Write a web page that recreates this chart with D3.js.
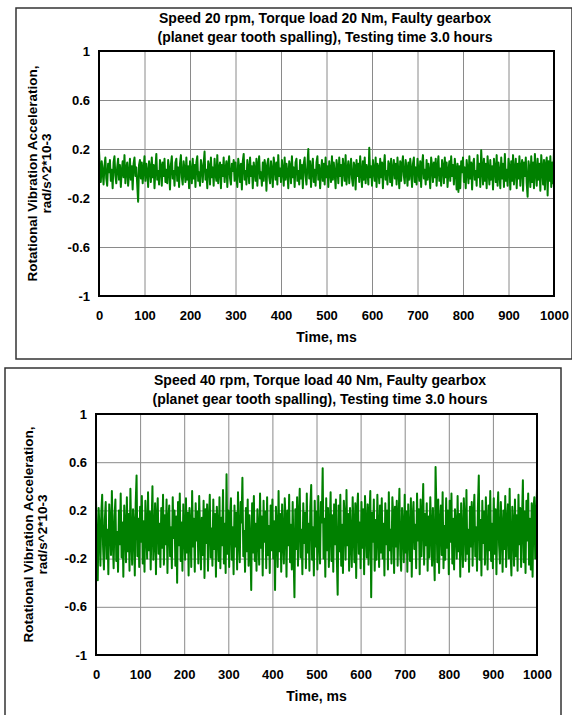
<!DOCTYPE html>
<html>
<head>
<meta charset="utf-8">
<script src="https://cdn.jsdelivr.net/npm/d3@7"></script>
<style>
  body { margin: 0; background: #fff; }
  svg { display: block; font-family: 'Liberation Sans', Arial, sans-serif; }
</style>
</head>
<body>
<div id="chart"></div>
<script>
const xTicks = [0, 100, 200, 300, 400, 500, 600, 700, 800, 900, 1000]
const yTicks = [-1, -0.6, -0.2, 0.2, 0.6, 1]
const title1 = ['Speed 20 rpm, Torque load 20 Nm, Faulty gearbox', '(planet gear tooth spalling), Testing time 3.0 hours']
const title2 = ['Speed 40 rpm, Torque load 40 Nm, Faulty gearbox', '(planet gear tooth spalling), Testing time 3.0 hours']
const yTitle = ['Rotational Vibration Acceleration,', 'rad/s^2*10-3']
const xTitle = 'Time, ms'

// sampled every 2 ms, 0..1000 ms (one row = 50 ms)
const signal1 = [
  0.19, 0.04, -0.07, 0.10, 0.02, -0.09, 0.06, 0.13, -0.04, -0.10, 0.08, 0.01, 0.11, -0.06, 0.03, -0.12, 0.09, 0.14, -0.02, -0.08, 0.05, 0.12, -0.05, 0.07, -0.11,
  0.02, 0.10, -0.03, 0.15, -0.08, 0.04, 0.09, -0.10, 0.00, 0.12, -0.05, 0.06, -0.13, 0.08, 0.13, -0.02, 0.05, -0.09, -0.23, 0.07, 0.11, -0.04, 0.09, -0.08, 0.03,
  0.14, -0.06, 0.08, 0.01, -0.11, 0.10, 0.05, -0.07, 0.13, -0.03, 0.07, -0.12, 0.04, 0.16, -0.05, 0.02, -0.09, 0.11, 0.06, -0.10, 0.09, -0.02, 0.12, -0.07, 0.03,
  -0.08, 0.11, 0.04, -0.13, 0.07, 0.14, -0.04, 0.02, -0.10, 0.09, 0.12, -0.06, 0.05, -0.11, 0.08, 0.15, -0.03, -0.09, 0.10, 0.03, -0.07, 0.13, -0.05, 0.06, -0.12,
  0.10, 0.02, -0.08, 0.12, -0.04, 0.07, -0.11, 0.09, 0.14, -0.06, 0.01, -0.10, 0.11, 0.05, -0.07, 0.08, 0.18, -0.05, 0.03, -0.12, 0.10, 0.06, -0.09, 0.13, -0.03,
  0.05, -0.10, 0.12, 0.00, -0.06, 0.15, -0.08, 0.04, 0.09, -0.12, 0.07, -0.02, 0.13, -0.07, 0.03, 0.10, -0.11, 0.06, 0.14, -0.04, -0.09, 0.08, 0.02, 0.11, -0.06,
  0.09, -0.03, -0.11, 0.12, 0.05, -0.07, 0.08, -0.13, 0.10, 0.16, -0.05, 0.02, -0.09, 0.11, 0.04, -0.08, 0.13, -0.02, 0.06, -0.12, 0.09, 0.03, -0.06, 0.12, -0.10,
  0.07, 0.14, -0.04, 0.01, -0.10, 0.09, -0.06, 0.11, 0.05, -0.14, 0.08, 0.12, -0.03, -0.08, 0.10, 0.02, -0.11, 0.13, 0.06, -0.05, 0.09, -0.09, 0.15, -0.02, 0.04,
  -0.07, 0.11, 0.03, -0.10, 0.13, -0.05, 0.08, 0.01, -0.12, 0.10, 0.06, -0.08, 0.14, -0.03, 0.05, -0.11, 0.09, 0.12, -0.06, 0.02, -0.09, 0.11, -0.04, 0.07, -0.12,
  0.08, 0.13, -0.02, -0.09, 0.06, 0.20, -0.04, 0.10, -0.11, 0.04, 0.12, -0.07, 0.03, -0.10, 0.09, 0.14, -0.05, 0.07, -0.12, 0.01, 0.11, -0.06, 0.08, -0.09, 0.13,
  -0.03, 0.06, -0.11, 0.10, 0.02, -0.07, 0.14, -0.05, 0.09, 0.00, -0.12, 0.11, 0.05, -0.08, 0.13, -0.02, 0.07, -0.10, 0.12, 0.04, -0.06, 0.15, -0.09, 0.03, 0.10,
  -0.08, 0.04, 0.12, -0.04, -0.10, 0.09, 0.06, -0.13, 0.11, -0.02, 0.08, -0.07, 0.14, 0.01, -0.11, 0.10, -0.05, 0.13, -0.08, 0.07, 0.02, -0.09, 0.21, -0.03, 0.06,
  -0.10, 0.11, 0.03, -0.06, 0.13, -0.11, 0.08, 0.05, -0.08, 0.12, -0.03, 0.09, -0.12, 0.06, 0.15, -0.05, 0.02, -0.09, 0.10, 0.07, -0.07, 0.12, -0.10, 0.04, 0.11,
  -0.04, 0.08, -0.09, 0.13, 0.01, -0.12, 0.10, -0.06, 0.07, 0.14, -0.02, -0.08, 0.11, 0.04, -0.10, 0.09, -0.05, 0.12, 0.03, -0.11, 0.08, 0.13, -0.07, 0.05, -0.09,
  0.12, 0.02, -0.06, 0.10, -0.11, 0.07, 0.15, -0.04, 0.03, -0.09, 0.11, -0.05, 0.08, 0.01, -0.12, 0.13, 0.06, -0.07, 0.09, -0.03, 0.12, -0.10, 0.05, 0.14, -0.06,
  0.04, -0.10, 0.11, 0.06, -0.08, 0.13, -0.03, 0.09, -0.11, 0.02, 0.10, -0.06, 0.14, -0.02, 0.07, -0.09, 0.12, 0.03, -0.13, 0.08, -0.15, 0.06, -0.12, 0.10, 0.01,
  0.13, -0.07, 0.05, -0.12, 0.11, 0.03, -0.08, 0.14, -0.04, 0.09, -0.13, 0.07, 0.12, -0.05, 0.02, -0.10, 0.15, -0.03, 0.08, -0.11, 0.19, 0.04, -0.09, 0.12, -0.06,
  0.08, -0.12, 0.14, 0.02, -0.09, 0.11, -0.05, 0.06, -0.13, 0.12, 0.04, -0.07, 0.15, -0.10, 0.09, 0.01, -0.12, 0.13, -0.04, 0.08, -0.11, 0.16, -0.06, 0.03, -0.10,
  0.12, 0.05, -0.13, 0.10, -0.06, 0.15, -0.09, 0.03, 0.12, -0.12, 0.08, -0.04, 0.14, -0.10, 0.06, 0.11, -0.14, 0.09, -0.02, 0.13, -0.08, -0.19, 0.10, 0.04, -0.11,
  0.14, -0.07, 0.09, -0.12, 0.16, 0.02, -0.10, 0.12, -0.05, 0.08, -0.14, 0.15, 0.04, -0.09, 0.11, -0.13, 0.07, 0.13, -0.18, 0.10, -0.06, 0.14, -0.11, 0.09, -0.08,
  0.19
]

const signal2 = [
  0.30, -0.12, -0.38, 0.22, 0.05, -0.26, 0.18, 0.33, -0.10, -0.29, 0.12, 0.27, -0.20, 0.04, -0.33, 0.25, 0.09, -0.17, 0.36, -0.05, -0.28, 0.15, 0.29, -0.22, 0.02,
  -0.31, 0.20, -0.08, 0.34, -0.19, 0.10, -0.35, 0.24, 0.06, -0.23, 0.31, -0.14, 0.17, -0.30, 0.38, -0.02, -0.25, 0.21, 0.08, -0.34, 0.26, 0.49, -0.18, 0.13, -0.27,
  0.23, -0.06, 0.32, -0.24, 0.11, -0.31, 0.28, 0.03, -0.20, 0.35, -0.13, 0.19, -0.29, 0.07, 0.40, -0.21, -0.04, 0.26, -0.33, 0.14, 0.30, -0.16, 0.09, -0.27, 0.22,
  -0.11, 0.33, -0.25, 0.16, -0.08, 0.29, -0.32, 0.12, 0.24, -0.18, 0.06, -0.28, 0.31, -0.03, 0.20, -0.26, 0.15, -0.40, 0.27, -0.09, 0.34, -0.22, 0.10, -0.30, 0.25,
  0.04, -0.21, 0.30, -0.15, 0.18, -0.34, 0.22, 0.08, -0.27, 0.36, -0.10, 0.13, -0.31, 0.26, -0.05, 0.19, -0.24, 0.32, 0.02, -0.29, 0.14, -0.17, 0.28, -0.36, 0.21,
  -0.07, 0.25, -0.30, 0.11, 0.33, -0.19, 0.05, -0.26, 0.29, -0.12, 0.17, -0.35, 0.23, 0.07, -0.22, 0.31, -0.28, 0.14, -0.09, 0.37, -0.24, 0.09, -0.32, 0.50, -0.16,
  0.20, -0.27, 0.13, 0.30, -0.21, 0.06, -0.33, 0.24, -0.10, 0.18, -0.29, 0.35, -0.04, -0.23, 0.27, 0.10, 0.47, -0.18, 0.03, -0.31, 0.22, -0.14, 0.29, -0.26, 0.16,
  -0.08, -0.46, 0.26, -0.15, 0.32, -0.22, 0.09, -0.30, 0.21, 0.02, -0.25, 0.34, -0.11, 0.15, -0.34, 0.28, -0.06, 0.19, -0.28, 0.31, -0.17, 0.07, -0.32, 0.24, -0.13,
  0.29, -0.20, 0.11, -0.46, 0.23, 0.05, -0.27, 0.36, -0.14, 0.17, -0.31, 0.25, -0.03, -0.24, 0.30, 0.12, -0.35, 0.20, -0.09, 0.33, -0.23, 0.08, -0.29, 0.27, -0.16,
  -0.52, 0.21, -0.12, 0.31, -0.26, 0.14, 0.38, -0.19, 0.04, -0.33, 0.26, -0.07, 0.18, -0.28, 0.34, -0.15, 0.09, -0.30, 0.23, 0.41, -0.21, 0.06, -0.34, 0.28, -0.10,
  0.19, -0.29, 0.32, -0.05, -0.24, 0.27, 0.10, 0.55, -0.20, 0.13, -0.35, 0.30, -0.13, 0.22, -0.27, 0.06, 0.35, -0.22, 0.16, -0.31, 0.25, -0.08, 0.29, -0.18, -0.50,
  0.24, -0.14, 0.33, -0.26, 0.08, -0.32, 0.28, 0.14, -0.21, 0.37, -0.09, 0.17, -0.30, 0.22, -0.04, -0.27, 0.31, 0.05, -0.23, 0.26, -0.36, 0.19, 0.34, -0.16, 0.10,
  -0.28, 0.27, -0.11, 0.21, -0.33, 0.32, 0.07, -0.19, 0.25, -0.25, 0.15, 0.36, -0.52, 0.18, -0.06, 0.29, -0.30, 0.12, -0.21, 0.33, 0.02, -0.27, 0.24, -0.15, 0.30,
  -0.20, 0.09, -0.34, 0.26, -0.08, 0.20, -0.29, 0.35, -0.13, 0.04, -0.24, 0.31, 0.16, -0.32, 0.23, -0.10, 0.28, -0.26, 0.11, 0.38, -0.17, -0.30, 0.22, 0.06, -0.23,
  0.33, -0.15, 0.19, -0.31, 0.25, 0.01, -0.22, 0.30, -0.35, 0.14, 0.27, -0.12, 0.08, -0.28, 0.34, -0.05, 0.21, -0.33, 0.29, -0.18, 0.12, 0.42, -0.25, 0.17, -0.09,
  0.26, -0.30, 0.15, -0.19, 0.31, 0.05, -0.26, 0.22, -0.12, -0.38, 0.56, 0.18, -0.23, 0.29, -0.32, 0.10, 0.24, -0.17, 0.35, -0.28, 0.07, -0.21, 0.30, -0.11, 0.20,
  -0.33, 0.28, -0.06, 0.34, -0.24, 0.13, -0.29, 0.21, 0.08, -0.20, 0.32, -0.14, 0.17, -0.35, 0.26, -0.02, -0.27, 0.30, 0.11, -0.22, 0.37, -0.16, 0.04, -0.31, 0.23,
  -0.10, 0.27, -0.26, 0.16, 0.33, -0.18, 0.06, -0.30, 0.22, 0.49, -0.21, 0.12, -0.34, 0.28, -0.07, 0.19, -0.25, 0.31, 0.03, -0.29, 0.24, -0.13, 0.36, -0.22, 0.09,
  -0.28, 0.30, -0.16, 0.21, -0.33, 0.14, 0.35, -0.09, -0.24, 0.27, 0.05, -0.31, 0.20, -0.12, 0.32, -0.27, 0.10, 0.25, -0.20, 0.38, -0.15, -0.34, 0.23, 0.08, -0.26,
  0.29, -0.18, 0.16, -0.30, 0.33, -0.08, 0.22, -0.27, 0.12, 0.45, -0.23, 0.19, -0.32, 0.28, -0.05, 0.34, -0.25, 0.13, -0.29, 0.26, -0.35, 0.21, 0.31, -0.20, 0.14,
  0.38
]

const svg = d3
  .select('#chart')
  .append('svg')
  .attr('width', 572)
  .attr('height', 715)

function panel(opts) {
  const { box, plot, titles, signal, yTitleX } = opts
  const WIDTH = plot.right - plot.left
  const HEIGHT = plot.bottom - plot.top

  // outer frame
  svg.append('rect')
    .attr('x', box.x)
    .attr('y', box.y)
    .attr('width', box.w)
    .attr('height', box.h)
    .attr('fill', 'none')
    .attr('stroke', '#333')
    .attr('stroke-width', 1.5)

  const g = svg.append('g')
    .attr('transform', `translate(${plot.left}, ${plot.top})`)

  const x = d3.scaleLinear().domain([0, 1000]).range([0, WIDTH])
  const y = d3.scaleLinear().domain([-1, 1]).range([HEIGHT, 0])

  // grid
  g.append('g')
    .attr('class', 'grid')
    .attr('transform', `translate(0, ${HEIGHT})`)
    .call(d3.axisBottom(x).tickValues(xTicks.slice(1, -1)).tickSize(-HEIGHT).tickFormat(''))
    .call(s => s.select('.domain').remove())
    .call(s => s.selectAll('line').attr('stroke', '#8a8a8a').attr('stroke-width', 1))
  g.append('g')
    .attr('class', 'grid')
    .call(d3.axisLeft(y).tickValues(yTicks.slice(1, -1)).tickSize(-WIDTH).tickFormat(''))
    .call(s => s.select('.domain').remove())
    .call(s => s.selectAll('line').attr('stroke', '#8a8a8a').attr('stroke-width', 1))

  // signal
  const line = d3.line()
    .x((d, i) => x(i * 1000 / (signal.length - 1)))
    .y(d => y(d))
  g.append('path')
    .datum(signal)
    .attr('d', line)
    .attr('fill', 'none')
    .attr('stroke', '#008000')
    .attr('stroke-width', 2)
    .attr('stroke-linejoin', 'round')

  // plot border
  g.append('rect')
    .attr('width', WIDTH)
    .attr('height', HEIGHT)
    .attr('fill', 'none')
    .attr('stroke', '#000')
    .attr('stroke-width', 2)

  // tick labels
  g.append('g')
    .attr('transform', `translate(0, ${HEIGHT})`)
    .call(d3.axisBottom(x).tickValues(xTicks).tickSize(0).tickPadding(15).tickFormat(d => d))
    .call(s => s.select('.domain').remove())
    .selectAll('text')
    .attr('font-family', "'Liberation Sans', Arial, sans-serif")
    .attr('font-size', '13px')
    .attr('font-weight', 'bold')
    .attr('fill', '#000')
  g.append('g')
    .call(d3.axisLeft(y).tickValues(yTicks).tickSize(0).tickPadding(9).tickFormat(d => String(d)))
    .call(s => s.select('.domain').remove())
    .selectAll('text')
    .attr('font-family', "'Liberation Sans', Arial, sans-serif")
    .attr('font-size', '13px')
    .attr('font-weight', 'bold')
    .attr('fill', '#000')

  // titles
  titles.forEach((t, i) => {
    svg.append('text')
      .attr('x', opts.titleX)
      .attr('y', opts.titleY + i * 19)
      .attr('text-anchor', 'middle')
      .attr('font-size', '14px')
      .attr('font-weight', 'bold')
      .text(t)
  })

  // x label
  g.append('text')
    .attr('x', WIDTH / 2)
    .attr('y', HEIGHT + 46)
    .attr('text-anchor', 'middle')
    .attr('font-size', '14px')
    .attr('font-weight', 'bold')
    .text(xTitle)

  // y label
  yTitle.forEach((t, i) => {
    svg.append('text')
      .attr('transform', `translate(${yTitleX + i * 14}, ${plot.top + HEIGHT / 2}) rotate(-90)`)
      .attr('text-anchor', 'middle')
      .attr('font-size', '13.5px')
      .attr('font-weight', 'bold')
      .text(t)
  })
}

panel({
  box: { x: 16, y: 8, w: 556, h: 351 },
  plot: { left: 99, right: 554, top: 51, bottom: 296 },
  titles: title1,
  titleX: 325,
  titleY: 23,
  signal: signal1,
  yTitleX: 37
})

panel({
  box: { x: 5, y: 368, w: 556, h: 360 },
  plot: { left: 96, right: 537, top: 414, bottom: 655 },
  titles: title2,
  titleX: 320,
  titleY: 385,
  signal: signal2,
  yTitleX: 33
})
</script>
</body>
</html>
